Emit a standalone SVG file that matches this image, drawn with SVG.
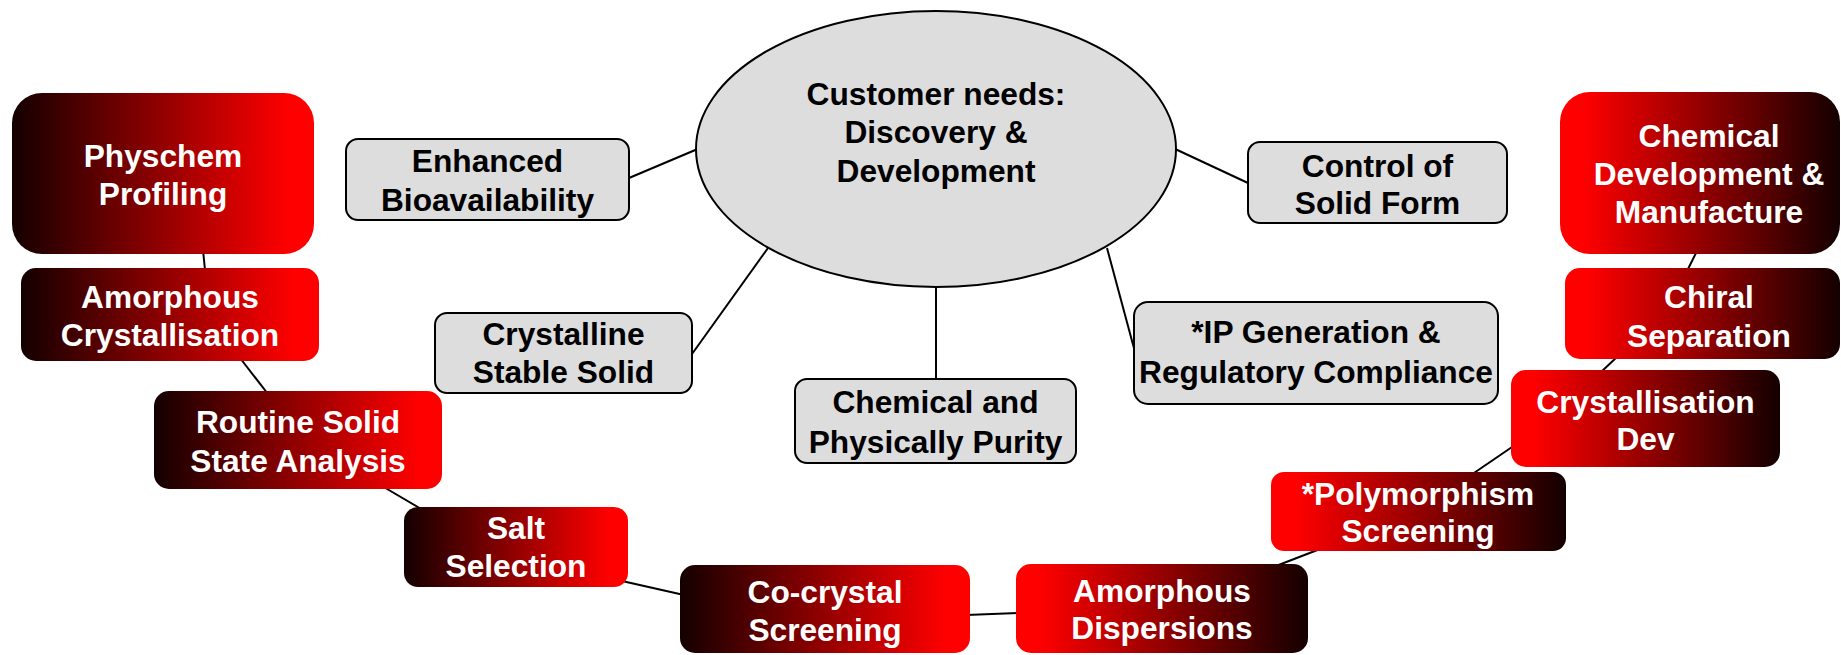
<svg xmlns="http://www.w3.org/2000/svg" width="1841" height="655" viewBox="0 0 1841 655">
  <defs>
    <!-- dark on the left, bright red on the right -->
    <linearGradient id="darkToRed" x1="0" y1="0" x2="1" y2="0">
      <stop offset="0" stop-color="#140000"/>
      <stop offset="0.92" stop-color="#ff0000"/>
    </linearGradient>
    <!-- bright red on the left, dark on the right -->
    <linearGradient id="redToDark" x1="0" y1="0" x2="1" y2="0">
      <stop offset="0.08" stop-color="#ff0000"/>
      <stop offset="1" stop-color="#140000"/>
    </linearGradient>
    <style>
      text { font-family: "Liberation Sans", Arial, Helvetica, sans-serif; font-weight: bold; font-size: 31.7px; text-anchor: middle; }
      .need { fill: #dddddd; stroke: #000; stroke-width: 2; }
      .need-text { fill: #000; }
      .svc-text { fill: #fff; }
      .dr { fill: url(#darkToRed); }
      .rd { fill: url(#redToDark); }
      .link { stroke: #000; stroke-width: 2; fill: none; }
    </style>
  </defs>

  <rect width="1841" height="655" fill="#fff"/>

  <!-- connectors -->
  <g id="connectors" class="link">
    <line x1="629" y1="178" x2="700" y2="148"/>
    <line x1="1173" y1="148" x2="1248" y2="183"/>
    <line x1="768" y1="248" x2="692" y2="354"/>
    <line x1="936" y1="285" x2="936" y2="380"/>
    <line x1="1107" y1="248" x2="1135" y2="352"/>
    <line x1="203" y1="250" x2="205" y2="270"/>
    <line x1="240" y1="358" x2="268" y2="394"/>
    <line x1="382" y1="486" x2="423" y2="510"/>
    <line x1="622" y1="581" x2="684" y2="595"/>
    <line x1="966" y1="615" x2="1020" y2="613"/>
    <line x1="1276" y1="566" x2="1320" y2="549"/>
    <line x1="1471" y1="475" x2="1515" y2="445"/>
    <line x1="1600" y1="373" x2="1618" y2="356"/>
    <line x1="1687" y1="271" x2="1697" y2="251"/>
  </g>

  <!-- central need -->
  <g id="customer-needs">
    <ellipse class="need" cx="936" cy="149" rx="240" ry="138"/>
    <text class="need-text" x="936" y="105">Customer needs:</text>
    <text class="need-text" x="936" y="143">Discovery &amp;</text>
    <text class="need-text" x="936" y="182">Development</text>
  </g>

  <!-- customer requirements -->
  <g id="enhanced-bioavailability">
    <rect class="need" x="346" y="139" width="283" height="81" rx="12"/>
    <text class="need-text" x="487.5" y="172">Enhanced</text>
    <text class="need-text" x="487.5" y="211">Bioavailability</text>
  </g>
  <g id="control-solid-form">
    <rect class="need" x="1248" y="142" width="259" height="81" rx="12"/>
    <text class="need-text" x="1377.5" y="177">Control of</text>
    <text class="need-text" x="1377.5" y="214">Solid Form</text>
  </g>
  <g id="crystalline-stable-solid">
    <rect class="need" x="435" y="313" width="257" height="80" rx="12"/>
    <text class="need-text" x="563.5" y="345">Crystalline</text>
    <text class="need-text" x="563.5" y="383">Stable Solid</text>
  </g>
  <g id="chemical-physical-purity">
    <rect class="need" x="795" y="379" width="281" height="84" rx="12"/>
    <text class="need-text" x="935.5" y="413">Chemical and</text>
    <text class="need-text" x="935.5" y="453">Physically Purity</text>
  </g>
  <g id="ip-regulatory">
    <rect class="need" x="1134" y="302" width="364" height="102" rx="14"/>
    <text class="need-text" x="1316" y="343">*IP Generation &amp;</text>
    <text class="need-text" x="1316" y="383">Regulatory Compliance</text>
  </g>

  <!-- services chain, left side -->
  <g id="physchem-profiling">
    <rect class="dr" x="12" y="93" width="302" height="161" rx="30"/>
    <text class="svc-text" x="163" y="167">Physchem</text>
    <text class="svc-text" x="163" y="205">Profiling</text>
  </g>
  <g id="amorphous-crystallisation">
    <rect class="dr" x="21" y="268" width="298" height="93" rx="15"/>
    <text class="svc-text" x="170" y="308">Amorphous</text>
    <text class="svc-text" x="170" y="346">Crystallisation</text>
  </g>
  <g id="routine-solid-state">
    <rect class="dr" x="154" y="391" width="288" height="98" rx="15"/>
    <text class="svc-text" x="298" y="433">Routine Solid</text>
    <text class="svc-text" x="298" y="472">State Analysis</text>
  </g>
  <g id="salt-selection">
    <rect class="dr" x="404" y="507" width="224" height="80" rx="14"/>
    <text class="svc-text" x="516" y="539">Salt</text>
    <text class="svc-text" x="516" y="577">Selection</text>
  </g>
  <g id="co-crystal-screening">
    <rect class="dr" x="680" y="565" width="290" height="88" rx="15"/>
    <text class="svc-text" x="825" y="603">Co-crystal</text>
    <text class="svc-text" x="825" y="641">Screening</text>
  </g>

  <!-- services chain, right side -->
  <g id="amorphous-dispersions">
    <rect class="rd" x="1016" y="564" width="292" height="89" rx="15"/>
    <text class="svc-text" x="1162" y="602">Amorphous</text>
    <text class="svc-text" x="1162" y="639">Dispersions</text>
  </g>
  <g id="polymorphism-screening">
    <rect class="rd" x="1271" y="472" width="295" height="79" rx="13"/>
    <text class="svc-text" x="1418" y="505">*Polymorphism</text>
    <text class="svc-text" x="1418" y="542">Screening</text>
  </g>
  <g id="crystallisation-dev">
    <rect class="rd" x="1511" y="370" width="269" height="97" rx="15"/>
    <text class="svc-text" x="1645.5" y="413">Crystallisation</text>
    <text class="svc-text" x="1645.5" y="450">Dev</text>
  </g>
  <g id="chiral-separation">
    <rect class="rd" x="1565" y="268" width="275" height="91" rx="15"/>
    <text class="svc-text" x="1709" y="308">Chiral</text>
    <text class="svc-text" x="1709" y="347">Separation</text>
  </g>
  <g id="chemical-development">
    <rect class="rd" x="1560" y="92" width="280" height="162" rx="30"/>
    <text class="svc-text" x="1709" y="147">Chemical</text>
    <text class="svc-text" x="1709" y="185">Development &amp;</text>
    <text class="svc-text" x="1709" y="223">Manufacture</text>
  </g>
</svg>
